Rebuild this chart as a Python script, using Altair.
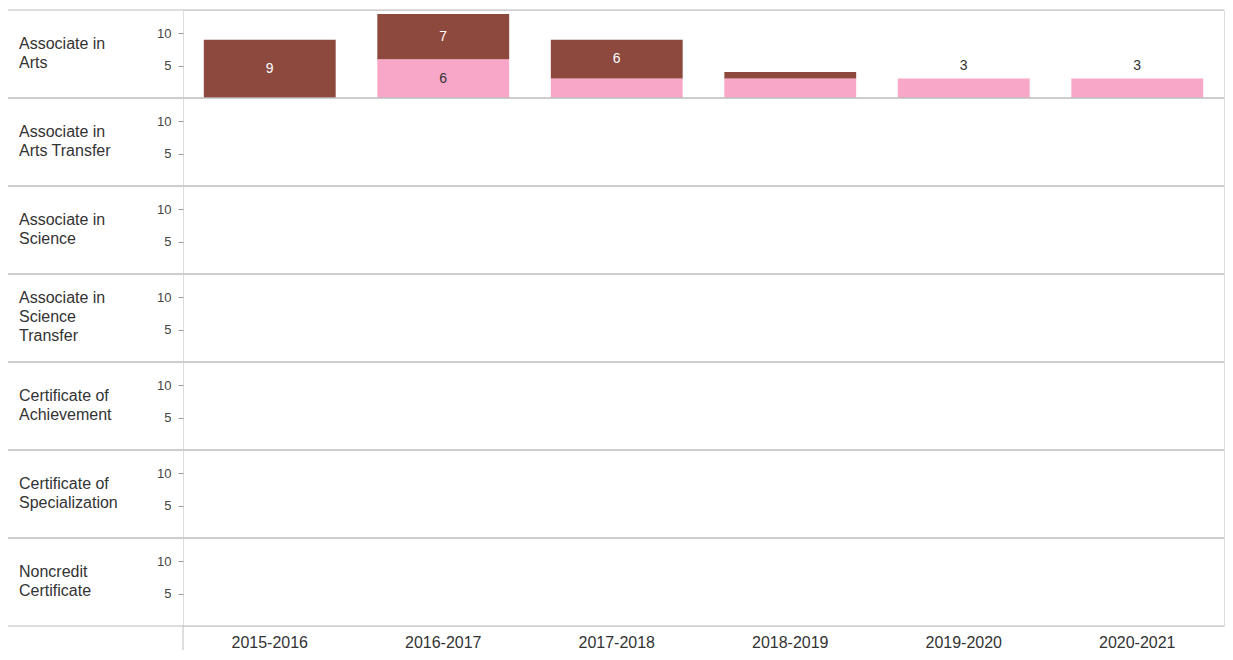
import altair as alt
import pandas as pd

# ---- data ----
years = ["2015-2016", "2016-2017", "2017-2018", "2018-2019", "2019-2020", "2020-2021"]
degrees = [
    "Associate in Arts",
    "Associate in Arts Transfer",
    "Associate in Science",
    "Associate in Science Transfer",
    "Certificate of Achievement",
    "Certificate of Specialization",
    "Noncredit Certificate",
]
degree_labels = [
    "Associate in\nArts",
    "Associate in\nArts Transfer",
    "Associate in\nScience",
    "Associate in\nScience\nTransfer",
    "Certificate of\nAchievement",
    "Certificate of\nSpecialization",
    "Noncredit\nCertificate",
]
series = ["Series A", "Series B"]          # pink (bottom), brown (top)
series_colors = ["#f8a7c8", "#8d493d"]
label_colors = ["#333333", "#ffffff"]

# values per degree (only Associate in Arts has awards)
values_a = {"Associate in Arts": [0, 6, 3, 3, 3, 3]}
values_b = {"Associate in Arts": [9, 7, 6, 1, 0, 0]}

rows = []
for d, lab in zip(degrees, degree_labels):
    va = values_a.get(d, [0] * len(years))
    vb = values_b.get(d, [0] * len(years))
    for i, y in enumerate(years):
        rows.append({"degree": d, "label": lab, "year": y, "series": series[0],
                     "order": 0, "value": va[i], "txtcol": label_colors[0]})
        rows.append({"degree": d, "label": lab, "year": y, "series": series[1],
                     "order": 1, "value": vb[i], "txtcol": label_colors[1]})
df = pd.DataFrame(rows)

W = 1041
H = 88
LH = 19
FONT = "Liberation Sans"
GRID = "#bdbdbd"

x_enc = alt.X(
    "year:N", sort=years, title=None,
    scale=alt.Scale(paddingInner=0.24, paddingOuter=0.12),
    axis=alt.Axis(labelAngle=0, ticks=False, domain=False, labelPadding=8,
                  labelFontSize=16, labelColor="#333333", labelFont=FONT),
)
y_scale = alt.Scale(domain=[0, 13.6], nice=False, zero=True)
y_axis = alt.Axis(values=[5, 10], grid=False, domain=False, tickSize=5,
                  tickColor="#9a9a9a", labelPadding=7, labelFontSize=13,
                  labelColor="#444444", labelFont=FONT, title=None)

base = alt.Chart()

bars = base.mark_bar().encode(
    x=x_enc,
    y=alt.Y("v0:Q", scale=y_scale, axis=y_axis),
    y2="v1:Q",
    color=alt.Color("series:N", scale=alt.Scale(domain=series, range=series_colors), legend=None),
).transform_filter("datum.value > 0")

inside_labels = base.mark_text(fontSize=14, font=FONT, baseline="middle").encode(
    x=x_enc,
    y=alt.Y("mid:Q", scale=y_scale, axis=y_axis),
    text="value:Q",
    color=alt.Color("txtcol:N", scale=None),
).transform_filter("datum.value >= 5")

above_labels = base.mark_text(fontSize=14, font=FONT, baseline="bottom", dy=-6,
                              color="#333333").encode(
    x=x_enc,
    y=alt.Y("v1:Q", scale=y_scale, axis=y_axis),
    text="value:Q",
).transform_filter("datum.value > 0 && datum.value < 5 && datum.nseg == 1")

first = f"datum.year == '{years[0]}' && datum.series == '{series[0]}'"

rule_top = base.mark_rule(color=GRID, strokeWidth=1).encode(
    x=alt.value(-180), x2=alt.value(W), y=alt.value(0)
).transform_filter(first)

rule_bottom = base.mark_rule(color=GRID, strokeWidth=1).encode(
    x=alt.value(-180), x2=alt.value(W), y=alt.value(H)
).transform_filter(first)

rule_tail = base.mark_rule(color=GRID, strokeWidth=1).encode(
    x=alt.value(0), y=alt.value(H), y2=alt.value(H + 24)
).transform_filter(first + f" && datum.degree == '{degrees[-1]}'")

row_labels = base.mark_text(align="left", baseline="middle", lineBreak="\n",
                            fontSize=16, lineHeight=LH, font=FONT,
                            color="#333333").encode(
    x=alt.value(-164),
    y=alt.Y("ly:Q", scale=None, axis=None),
    text="label:N",
).transform_filter(first).transform_calculate(
    ly=f"{H / 2} - (length(split(datum.label, '\\n')) - 1) * {LH / 2} - 1"
)

layered = alt.layer(
    bars, inside_labels, above_labels, rule_top, rule_bottom, rule_tail, row_labels,
    data=df,
).transform_calculate(
    nz="datum.value > 0 ? 1 : 0"
).transform_joinaggregate(
    nseg="sum(nz)", groupby=["degree", "year"]
).transform_stack(
    stack="value", groupby=["degree", "year"], as_=["v0", "v1"],
    sort=[alt.SortField("order", order="ascending")],
).transform_calculate(
    mid="(datum.v0 + datum.v1) / 2"
).properties(width=W, height=H)

chart = layered.facet(
    row=alt.Row("degree:N", sort=degrees, title=None,
                header=alt.Header(labels=False)),
    spacing=0,
    bounds="flush",
).resolve_axis(
    y="independent"
).properties(
    padding={"left": -6, "top": 1, "right": 0, "bottom": 0}
).configure_view(
    stroke=GRID, strokeWidth=1
).configure(font=FONT)

chart.save("out.html", embed_options={"renderer": "svg", "actions": False})
